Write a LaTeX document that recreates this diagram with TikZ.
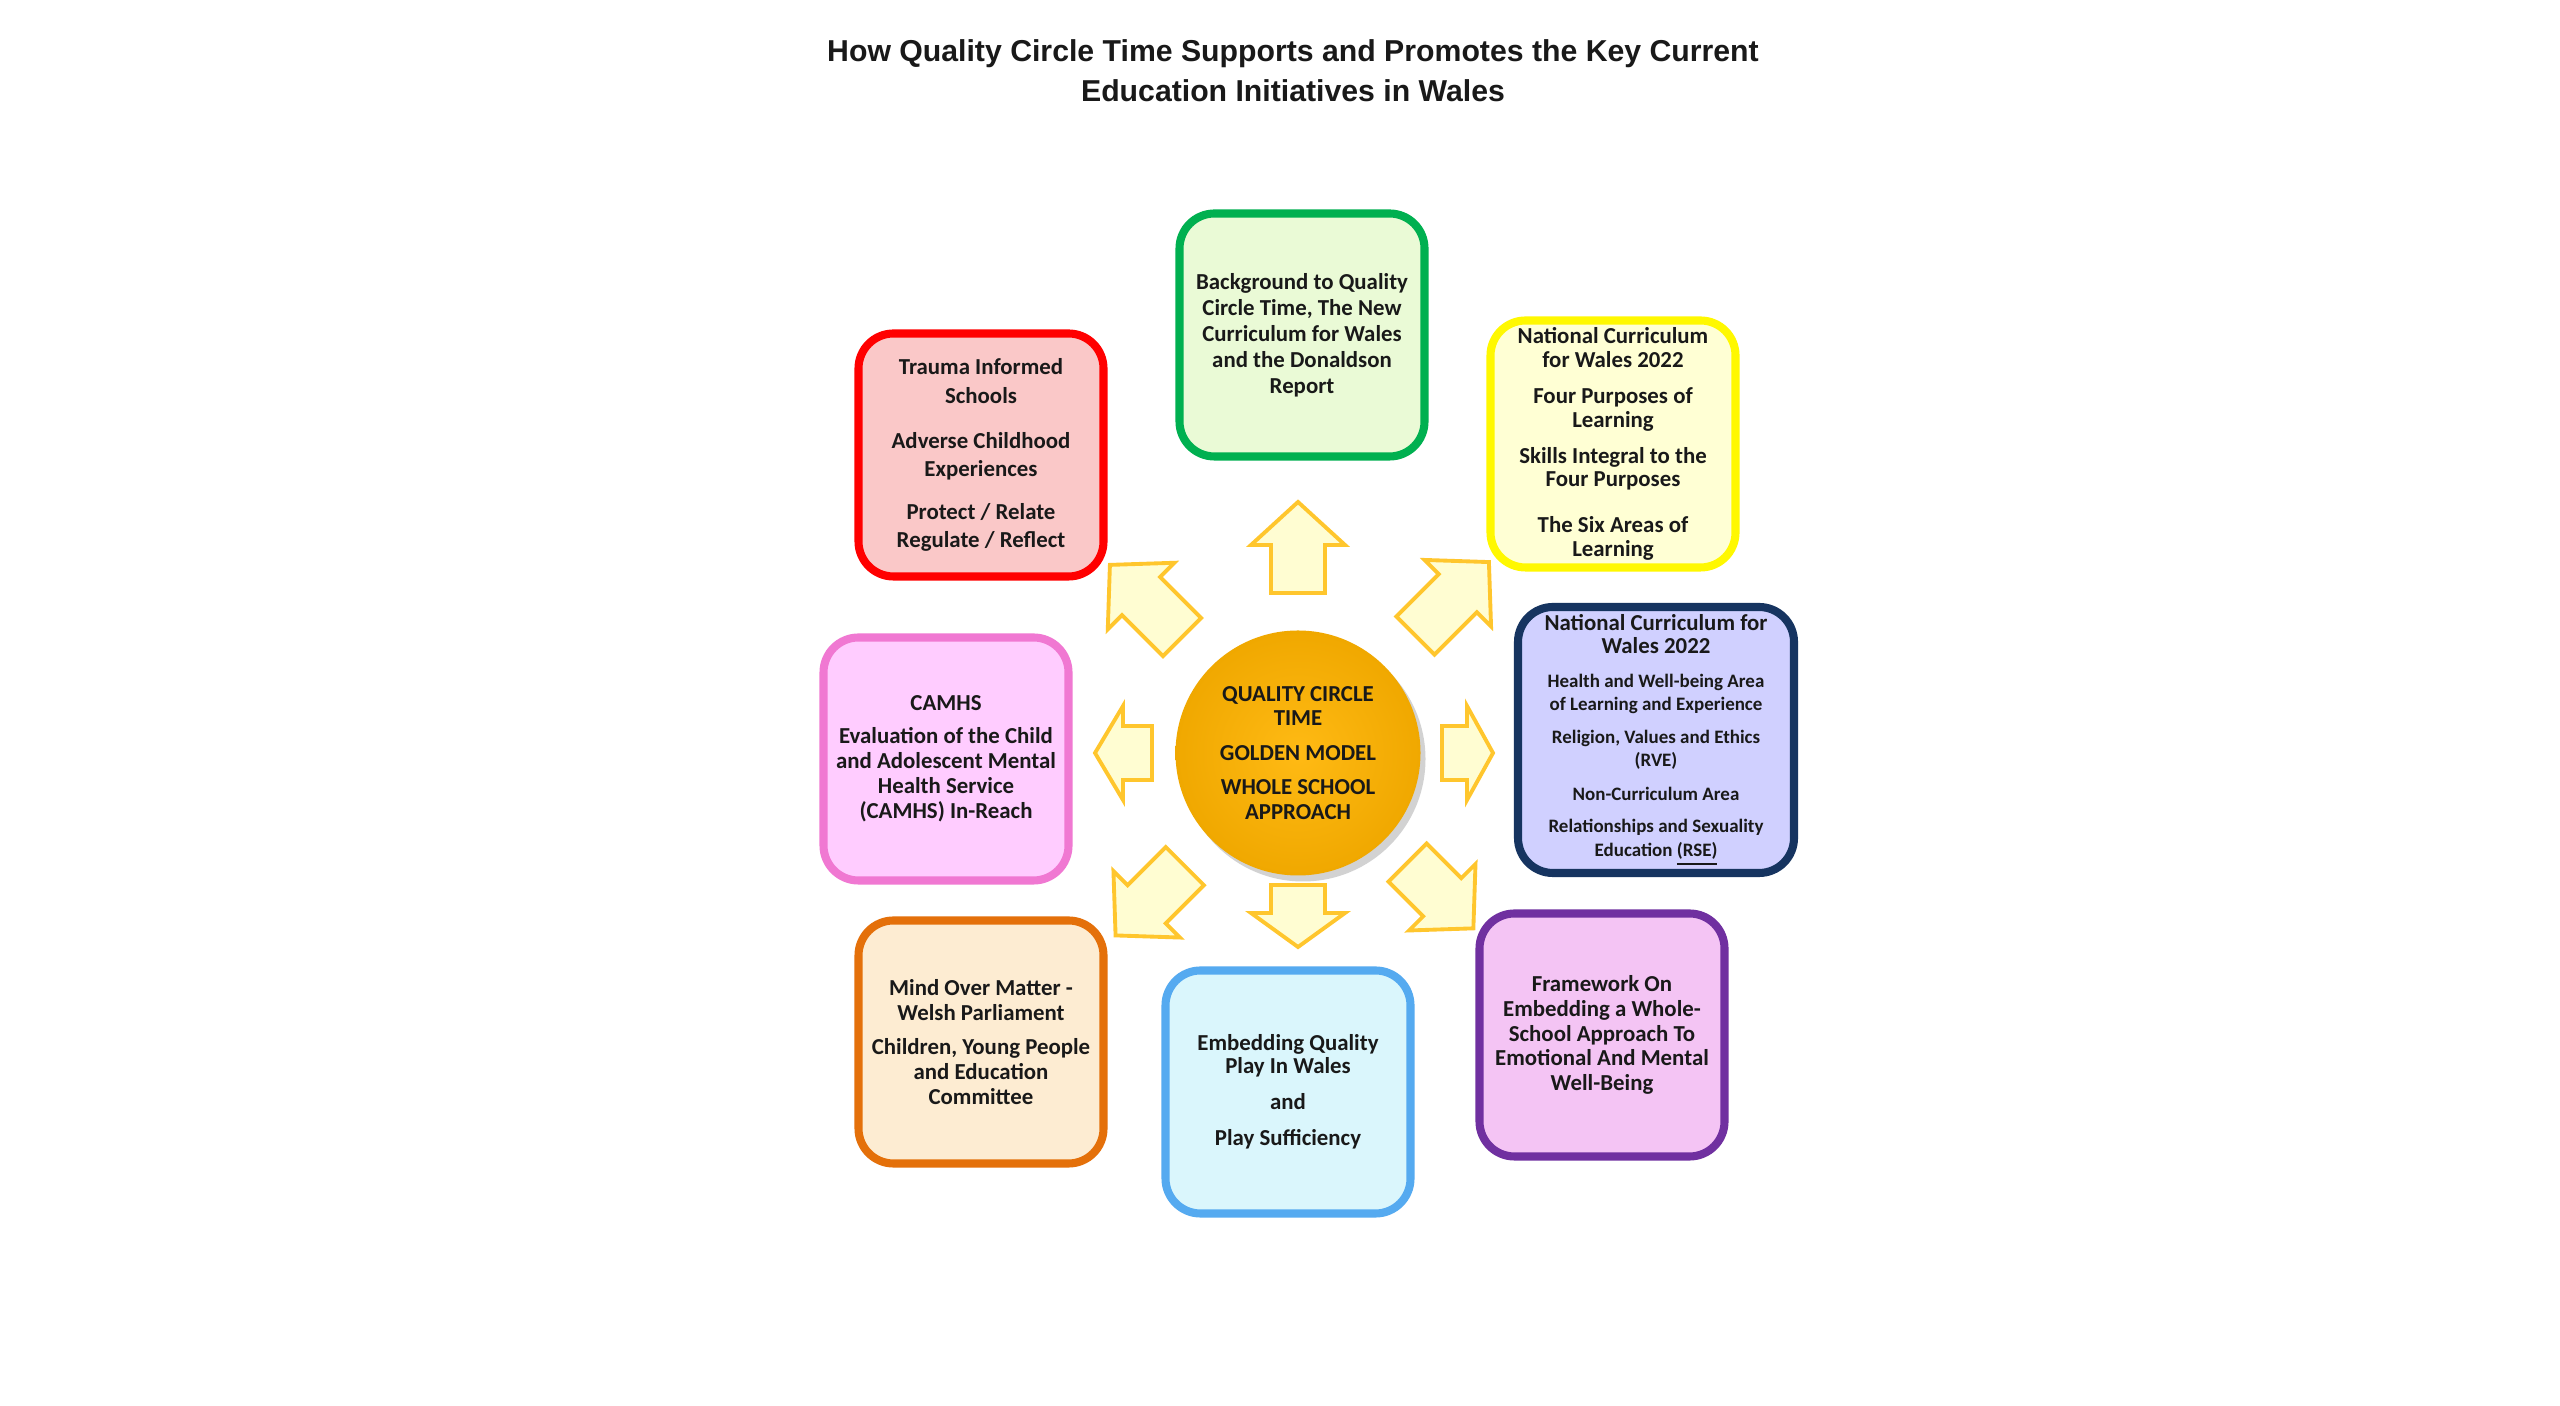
\documentclass[tikz,border=0pt]{standalone}
\usepackage{fontspec}
\setmainfont{Carlito}
\newfontfamily\titlefont{Liberation Sans}
\usepackage{xcolor}
\usepackage{tikz}
\usetikzlibrary{positioning, calc, shadows}
\definecolor{inktext}{RGB}{25, 25, 25}
\definecolor{qctgold}{RGB}{255, 186, 20}
\definecolor{qctgolddark}{RGB}{240, 168, 0}
\definecolor{rayline}{RGB}{255, 198, 45}
\definecolor{rayfill}{RGB}{255, 253, 210}
\definecolor{greenline}{RGB}{0, 176, 80}
\definecolor{greenfill}{RGB}{234, 250, 214}
\definecolor{yellowline}{RGB}{255, 248, 0}
\definecolor{yellowfill}{RGB}{255, 255, 212}
\definecolor{navyline}{RGB}{22, 52, 96}
\definecolor{navyfill}{RGB}{208, 208, 255}
\definecolor{purpleline}{RGB}{112, 48, 160}
\definecolor{purplefill}{RGB}{244, 196, 244}
\definecolor{skyline}{RGB}{85, 170, 240}
\definecolor{skyfill}{RGB}{218, 246, 252}
\definecolor{orangeline}{RGB}{228, 112, 10}
\definecolor{orangefill}{RGB}{253, 236, 210}
\definecolor{pinkline}{RGB}{240, 120, 210}
\definecolor{pinkfill}{RGB}{255, 204, 255}
\definecolor{redline}{RGB}{255, 0, 0}
\definecolor{redfill}{RGB}{250, 200, 200}

\newcommand{\navysmall}{\fontsize{5.4}{6.2}\selectfont}

\tikzset{
  initiative/.style={draw, line width=2.3pt, rounded corners=0.35cm,
    minimum width=2.45cm, minimum height=2.43cm, align=center,
    inner sep=2pt, text=inktext,
    font=\bfseries\fontsize{6.5}{7.4}\selectfont},
  hub/.style={circle, minimum size=2.45cm, inner sep=0pt, align=center,
    inner color=qctgold, outer color=qctgolddark, text=inktext,
    drop shadow={shadow xshift=0.05cm, shadow yshift=-0.06cm, opacity=0.35},
    font=\bfseries\fontsize{6.5}{7}\selectfont},
  rayarrow/.style={draw=rayline, fill=rayfill, line width=1.1pt, line join=miter}
}

\begin{document}
\begin{tikzpicture}
    \fill[white] (0,0) rectangle (25.6,14.06);
    \useasboundingbox (0,0) rectangle (25.6,14.06);

    % Title
    \node[align=center, text=inktext, font=\titlefont\bfseries\fontsize{8.6}{11.4}\selectfont] (title) at (12.93,13.35)
        {How Quality Circle Time Supports and Promotes the Key Current\\Education Initiatives in Wales};

    % Centre
    \node[hub] (qct) at (12.98,6.53)
        {QUALITY CIRCLE\\TIME\\[2.8pt] GOLDEN MODEL\\[2.8pt] WHOLE SCHOOL\\APPROACH};

    % Arrows out of the centre
    \foreach \ang/\ra/\rb/\hl in {90/1.60/2.51/0.43, 45/1.66/2.70/0.44, 0/1.44/1.95/0.26,
        -45/1.55/2.48/0.44, -90/1.32/1.94/0.34, -135/1.60/2.58/0.44,
        180/1.46/2.03/0.28, 135/1.64/2.66/0.44}
    {
        \draw[rayarrow, shift={(qct.center)}, rotate=\ang]
            (\ra,-0.27) -- ({\rb-\hl},-0.27) -- ({\rb-\hl},-0.47) -- (\rb,0)
            -- ({\rb-\hl},0.47) -- ({\rb-\hl},0.27) -- (\ra,0.27) -- cycle;
    }

    % Boxes
    \node[initiative, draw=greenline, fill=greenfill] (background) at (13.02,10.71)
        {Background to Quality\\Circle Time, The New\\Curriculum for Wales\\and the Donaldson\\Report};

    \node[initiative, draw=yellowline, fill=yellowfill, font=\bfseries\fontsize{6.5}{6.8}\selectfont] (ncwpurposes) at (16.13,9.62)
        {National Curriculum\\for Wales 2022\\[3.4pt] Four Purposes of\\Learning\\[3.4pt] Skills Integral to the\\Four Purposes\\[6.2pt] The Six Areas of\\Learning};

    \node[initiative, draw=navyline, fill=navyfill, minimum width=2.76cm, minimum height=2.59cm,
          font=\bfseries\fontsize{6.5}{6.6}\selectfont] (ncwhealth) at (16.56,6.66)
        {National Curriculum for\\Wales 2022\\[3.2pt]
         \navysmall Health and Well-being Area\\\navysmall of Learning and Experience\\[2.6pt]
         \navysmall Religion, Values and Ethics\\\navysmall (RVE)\\[3.1pt]
         \navysmall Non-Curriculum Area\\[2.6pt]
         \navysmall Relationships and Sexuality\\\navysmall Education \underline{(RSE)}};

    \node[initiative, draw=purpleline, fill=purplefill, font=\bfseries\fontsize{6.5}{7}\selectfont] (framework) at (16.02,3.71)
        {Framework On\\Embedding a Whole-\\School Approach To\\Emotional And Mental\\Well-Being};

    \node[initiative, draw=skyline, fill=skyfill, font=\bfseries\fontsize{6.5}{6.5}\selectfont] (play) at (12.88,3.14)
        {Embedding Quality\\Play In Wales\\[3.7pt] and\\[3.7pt] Play Sufficiency};

    \node[initiative, draw=orangeline, fill=orangefill, font=\bfseries\fontsize{6.5}{7}\selectfont] (mindover) at (9.81,3.64)
        {Mind Over Matter -\\Welsh Parliament\\[2.8pt] Children, Young People\\and Education\\Committee};

    \node[initiative, draw=pinkline, fill=pinkfill, font=\bfseries\fontsize{6.5}{7.1}\selectfont] (camhs) at (9.46,6.47)
        {CAMHS\\[2.2pt] Evaluation of the Child\\and Adolescent Mental\\Health Service\\(CAMHS) In-Reach};

    \node[initiative, draw=redline, fill=redfill, font=\bfseries\fontsize{6.5}{8}\selectfont] (trauma) at (9.81,9.51)
        {Trauma Informed\\Schools\\[5pt] Adverse Childhood\\Experiences\\[4pt] Protect / Relate\\Regulate / Reflect};
\end{tikzpicture}
\end{document}
